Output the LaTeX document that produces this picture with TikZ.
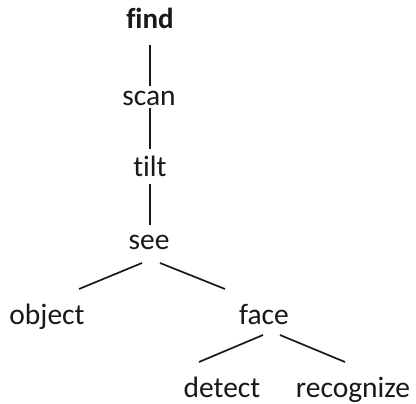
\documentclass[tikz,border=0pt]{standalone}
\usepackage{fontspec}
\setmainfont[Ligatures=NoCommon]{Carlito}
\begin{document}
\begin{tikzpicture}[x=1pt,y=-1pt,
  word/.style={anchor=base,inner sep=0pt,font=\fontsize{29.5}{34}\selectfont,text=black!90},
  edge/.style={line width=1.7pt,black!90}]
\useasboundingbox[fill=white] (0,0) rectangle (416,404);
\node[word,font=\fontsize{29}{34}\selectfont\bfseries] (find) at (150,29) {find};
\node[word] (scan) at (149,106) {scan};
\node[word] (tilt) at (150,177) {tilt};
\node[word] (see) at (149,250) {see};
\node[word] (object) at (47,325) {object};
\node[word] (face) at (264,325) {face};
\node[word] (detect) at (222,397) {detect};
\node[word] (recognize) at (353,397) {recognize};
\draw[edge] ([shift={(0,16)}]find.base) -- ([shift={(1,-20)}]scan.base);
\draw[edge] ([shift={(1,2)}]scan.base) -- ([shift={(0,-28)}]tilt.base);
\draw[edge] ([shift={(0,7)}]tilt.base) -- ([shift={(1,-25)}]see.base);
\draw[edge] ([shift={(-7,13)}]see.base) -- ([shift={(32,-36)}]object.base);
\draw[edge] ([shift={(11,13)}]see.base) -- ([shift={(-39,-36)}]face.base);
\draw[edge] ([shift={(-1,10)}]face.base) -- ([shift={(-23,-35)}]detect.base);
\draw[edge] ([shift={(16,10)}]face.base) -- ([shift={(-8,-35)}]recognize.base);
\end{tikzpicture}
\end{document}
